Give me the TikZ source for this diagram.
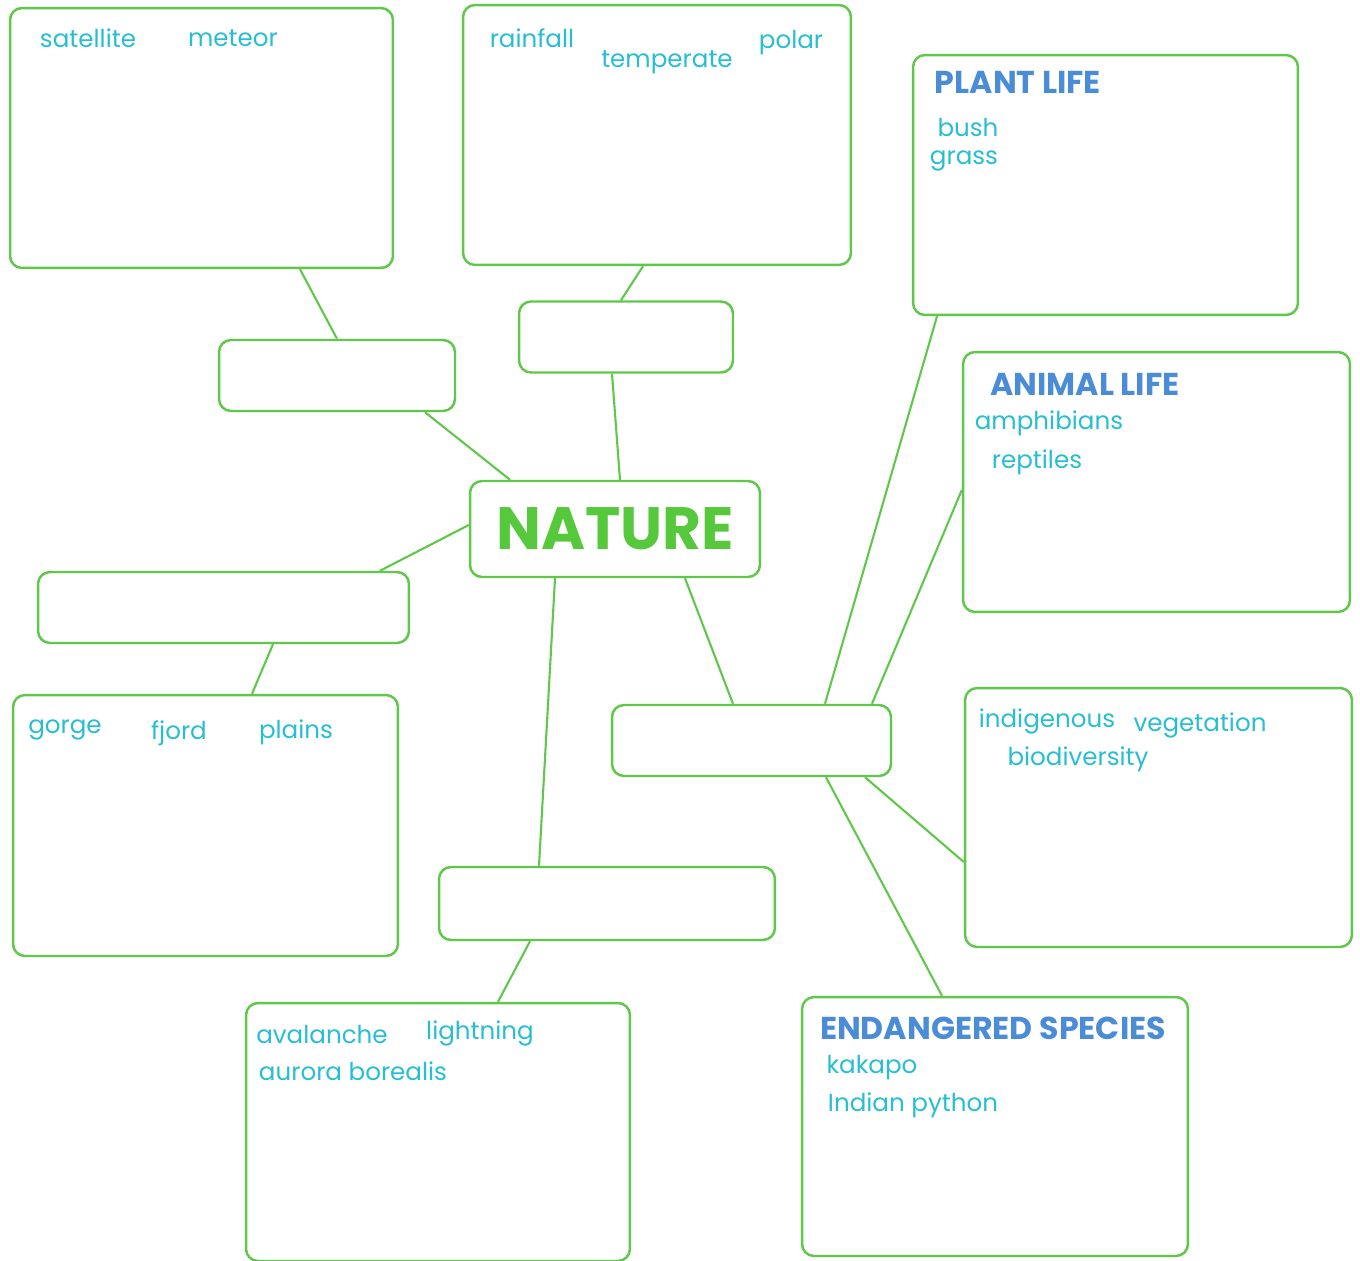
\documentclass[tikz,border=0pt]{standalone}
\usepackage{fontspec}
\setmainfont{Poppins}
\usetikzlibrary{positioning, calc}
\definecolor{boxline}{RGB}{95,200,75}
\definecolor{wordcol}{RGB}{40,190,210}
\definecolor{headcol}{RGB}{75,140,215}
\definecolor{naturecol}{RGB}{85,200,60}

\begin{document}
\begin{tikzpicture}[x=0.02cm, y=-0.02cm,
  bigbox/.style={rectangle, draw=boxline, line width=1.4pt, rounded corners=0.24cm, inner sep=0pt, minimum width=7.7cm, minimum height=5.2cm},
  smallbox/.style={rectangle, draw=boxline, line width=1.4pt, rounded corners=0.24cm, inner sep=0pt, minimum height=1.42cm},
  naturebox/.style={rectangle, draw=boxline, line width=1.4pt, rounded corners=0.24cm, inner sep=0pt, minimum width=5.8cm, minimum height=1.92cm, text=naturecol, font=\fontsize{34}{36}\selectfont\bfseries},
  word/.style={text=wordcol, inner sep=0pt, font=\fontsize{14}{17}\selectfont},
  header/.style={text=headcol, inner sep=0pt, font=\fontsize{18}{21}\selectfont\bfseries},
  link/.style={draw=boxline, line width=1.2pt}
]
  \useasboundingbox (0,0) rectangle (1360,1261);

  % Centre
  \node[naturebox] (nature) at (615,529) {NATURE};

  % Small boxes
  \node[smallbox, minimum width=4.72cm] (space) at (337,375.5) {};
  \node[smallbox, minimum width=4.28cm] (climate) at (626,337) {};
  \node[smallbox, minimum width=7.42cm] (landform) at (223.5,607.5) {};
  \node[smallbox, minimum width=5.58cm] (living) at (751.5,740.5) {};
  \node[smallbox, minimum width=6.72cm, minimum height=1.46cm] (weather) at (607,903.5) {};

  % Big boxes
  \node[bigbox, minimum width=7.66cm] (spacebig) at (201.5,138) {};
  \node[bigbox, minimum width=7.76cm] (climatebig) at (657,135) {};
  \node[bigbox] (plant) at (1105.5,185) {};
  \node[bigbox, minimum width=7.74cm] (animal) at (1156.5,482) {};
  \node[bigbox, minimum width=7.74cm, minimum height=5.18cm] (habitat) at (1158.5,817.5) {};
  \node[bigbox, minimum width=7.72cm, minimum height=5.18cm] (endangered) at (995,1126.5) {};
  \node[bigbox, minimum width=7.68cm, minimum height=5.16cm] (weatherbig) at (438,1132) {};
  \node[bigbox, minimum height=5.22cm] (landbig) at (205.5,825.5) {};

  % Words - top left
  \node[word] (satellite) at (88,38) {satellite};
  \node[word] (meteor) at (233,38) {meteor};

  % Words - top middle
  \node[word] (rainfall) at (532,38) {rainfall};
  \node[word] (temperate) at (667,62) {temperate};
  \node[word] (polar) at (791,43) {polar};

  % Plant life
  \node[header] (planthead) at (1018,82) {PLANT LIFE};
  \node[word] (bush) at (968,128) {bush};
  \node[word] (grass) at (964,161) {grass};

  % Animal life
  \node[header] (animalhead) at (1085,384) {ANIMAL LIFE};
  \node[word] (amphibians) at (1049,423) {amphibians};
  \node[word] (reptiles) at (1037,462) {reptiles};

  % Landforms
  \node[word] (gorge) at (65,730) {gorge};
  \node[word] (fjord) at (179,733) {fjord};
  \node[word] (plains) at (296,732) {plains};

  % Habitat
  \node[word] (indigenous) at (1047,721) {indigenous};
  \node[word] (vegetation) at (1200,725) {vegetation};
  \node[word] (biodiversity) at (1078,759) {biodiversity};

  % Weather
  \node[word] (avalanche) at (322,1035) {avalanche};
  \node[word] (lightning) at (480,1033) {lightning};
  \node[word] (aurora) at (353,1071) {aurora borealis};

  % Endangered species
  \node[header] (endhead) at (993,1028) {ENDANGERED SPECIES};
  \node[word] (kakapo) at (872,1068) {kakapo};
  \node[word] (python) at (913,1105) {Indian python};

  % Connectors
  \draw[link] ([xshift=1.97cm]spacebig.south) -- (space.north);
  \draw[link] ([xshift=1.76cm]space.south) -- ([xshift=-2.1cm]nature.north);
  \draw[link] ([xshift=-0.28cm]climatebig.south) -- ([xshift=-0.1cm]climate.north);
  \draw[link] ([xshift=-0.28cm]climate.south) -- ([xshift=0.1cm]nature.north);
  \draw[link] ([yshift=0.08cm]nature.west) -- ([xshift=3.13cm]landform.north);
  \draw[link] ([xshift=0.99cm]landform.south) -- ([xshift=0.93cm]landbig.north);
  \draw[link] ([xshift=-1.2cm]nature.south) -- ([xshift=-1.36cm]weather.north);
  \draw[link] ([xshift=-1.54cm]weather.south) -- ([xshift=1.2cm]weatherbig.north);
  \draw[link] ([xshift=1.4cm]nature.south) -- ([xshift=-0.37cm]living.north);
  \draw[link] ([xshift=1.47cm]living.north) -- ([xshift=-3.37cm]plant.south);
  \draw[link] ([xshift=2.41cm]living.north) -- ([yshift=-0.16cm]animal.west);
  \draw[link] ([xshift=2.27cm]living.south) -- ([yshift=-0.89cm]habitat.west);
  \draw[link] ([xshift=1.49cm]living.south) -- ([xshift=-1.06cm]endangered.north);
\end{tikzpicture}
\end{document}
